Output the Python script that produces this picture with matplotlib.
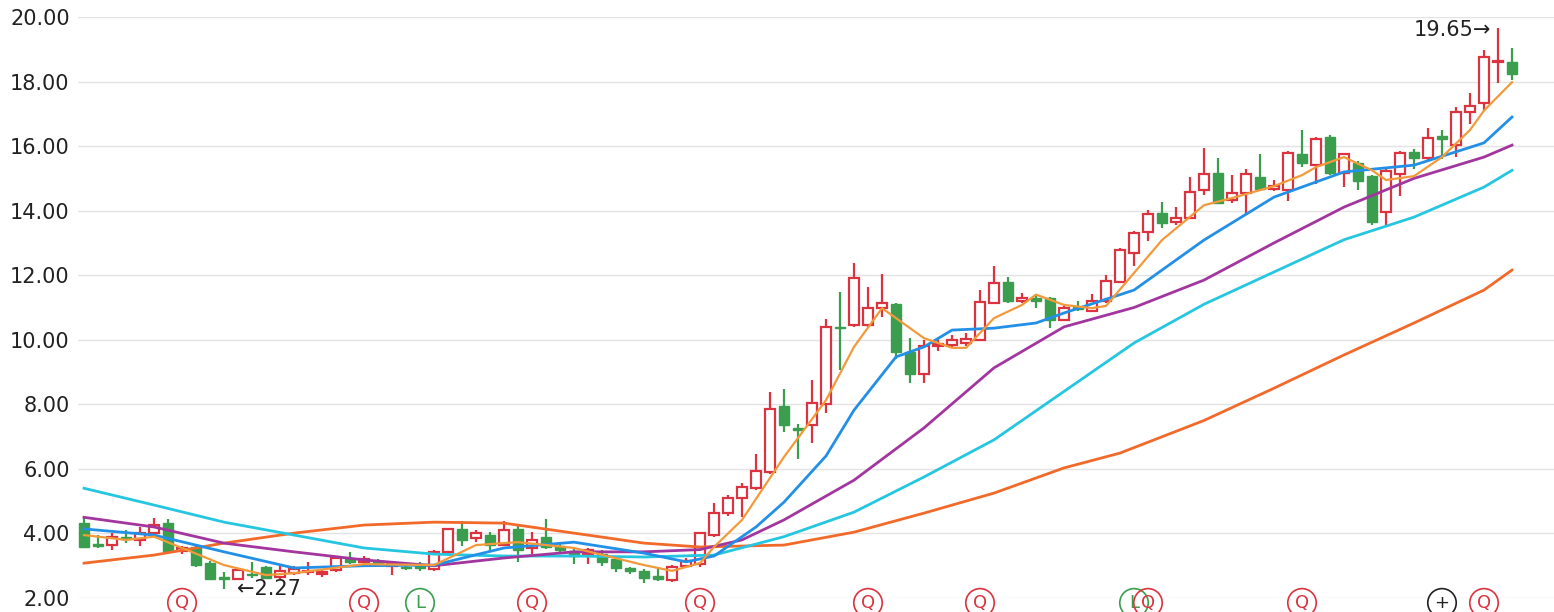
import matplotlib
matplotlib.use("Agg")
import matplotlib.pyplot as plt

# daily candles: open, high, low, close
opens = [4.32, 3.66, 3.64, 3.90, 3.80, 4.02, 4.32, 3.46, 3.58, 3.08,
         2.65, 2.58, 2.75, 2.95, 2.65, 2.78, 2.80, 2.75, 2.87, 3.22,
         3.12, 3.15, 3.00, 2.95, 3.00, 2.90, 3.42, 4.14, 3.86, 3.95,
         3.64, 4.14, 3.55, 3.90, 3.60, 3.45, 3.35, 3.35, 3.20, 2.92,
         2.85, 2.68, 2.55, 2.98, 3.05, 3.95, 4.63, 5.10, 5.40, 5.90,
         7.95, 7.27, 7.36, 8.00, 10.40, 10.45, 10.45, 10.98, 11.10, 9.62,
         8.94, 9.82, 9.85, 9.90, 10.00, 11.15, 11.80, 11.20, 11.30, 11.30,
         10.62, 11.00, 10.90, 11.20, 11.80, 12.70, 13.34, 13.92, 13.65, 13.77,
         14.64, 15.17, 14.33, 14.55, 15.05, 14.67, 14.64, 15.75, 15.41, 16.28,
         15.17, 15.47, 15.07, 13.96, 15.13, 15.82, 15.63, 16.30, 16.03, 17.06,
         17.34, 18.60, 18.60]
closes = [3.58, 3.60, 3.89, 3.82, 4.02, 4.26, 3.46, 3.56, 3.02, 2.59,
          2.58, 2.86, 2.70, 2.62, 2.85, 2.90, 2.85, 2.80, 3.24, 3.12,
          3.20, 3.05, 3.05, 2.92, 2.92, 3.42, 4.14, 3.80, 4.00, 3.64,
          4.10, 3.48, 3.80, 3.58, 3.50, 3.30, 3.48, 3.10, 2.93, 2.85,
          2.62, 2.58, 2.95, 3.15, 4.00, 4.63, 5.10, 5.44, 5.93, 7.85,
          7.36, 7.20, 8.04, 10.40, 10.35, 11.90, 11.00, 11.13, 9.62, 8.94,
          9.80, 9.85, 9.98, 10.03, 11.17, 11.76, 11.20, 11.30, 11.20, 10.60,
          10.98, 10.95, 11.20, 11.82, 12.78, 13.30, 13.90, 13.62, 13.77, 14.58,
          15.13, 14.24, 14.55, 15.13, 14.67, 14.76, 15.79, 15.47, 16.22, 15.17,
          15.75, 14.92, 13.65, 15.23, 15.79, 15.63, 16.25, 16.22, 17.06, 17.24,
          18.76, 18.65, 18.23]
highs = [4.50, 3.95, 4.00, 4.10, 4.20, 4.48, 4.45, 3.60, 3.60, 3.15,
         2.80, 2.92, 3.10, 3.00, 3.00, 2.98, 3.10, 2.90, 3.30, 3.42,
         3.30, 3.20, 3.12, 3.00, 3.10, 3.50, 4.17, 4.38, 4.12, 4.05,
         4.38, 4.25, 4.05, 4.45, 3.75, 3.55, 3.55, 3.50, 3.25, 2.96,
         2.90, 2.90, 3.02, 3.25, 4.05, 4.94, 5.18, 5.55, 6.46, 8.38,
         8.47, 7.40, 8.75, 10.65, 11.48, 12.38, 11.65, 12.03, 11.15, 10.05,
         10.00, 10.05, 10.15, 10.20, 11.54, 12.30, 11.95, 11.45, 11.42, 11.32,
         11.05, 11.20, 11.42, 12.00, 12.84, 13.36, 14.02, 14.27, 14.11, 15.04,
         15.94, 15.63, 15.10, 15.30, 15.75, 14.95, 15.85, 16.50, 16.28, 16.34,
         15.80, 15.55, 15.10, 15.30, 15.85, 15.90, 16.56, 16.50, 17.21, 17.64,
         18.98, 19.65, 19.04]
lows = [3.55, 3.55, 3.49, 3.70, 3.60, 4.00, 3.36, 3.36, 2.95, 2.56,
        2.27, 2.55, 2.62, 2.58, 2.60, 2.72, 2.70, 2.65, 2.82, 3.05,
        3.05, 2.98, 2.70, 2.88, 2.85, 2.85, 3.35, 3.60, 3.75, 3.45,
        3.60, 3.10, 3.35, 3.52, 3.42, 3.05, 3.05, 3.00, 2.80, 2.75,
        2.47, 2.52, 2.50, 2.95, 2.95, 3.90, 4.55, 4.50, 5.35, 5.85,
        7.15, 6.30, 6.80, 7.73, 9.06, 10.40, 10.40, 10.70, 9.40, 8.66,
        8.66, 9.65, 9.75, 9.80, 9.95, 11.10, 11.15, 11.15, 10.98, 10.36,
        10.58, 10.88, 10.85, 11.15, 11.75, 12.30, 13.06, 13.46, 13.55, 13.75,
        14.48, 14.20, 14.24, 13.86, 14.60, 14.60, 14.30, 15.35, 14.83, 15.10,
        14.73, 14.64, 13.55, 13.52, 14.45, 15.30, 15.50, 15.60, 15.66, 16.70,
        17.10, 17.96, 18.05]

# moving average lines read at sampled candle indices
ma5_i = [0, 3, 5, 7, 10, 13, 15, 20, 25, 28, 31, 35, 40, 42, 44, 45, 47, 50, 53, 55,
         57, 60, 62, 63, 65, 67, 68, 70, 72, 73, 75, 77, 80, 82, 85, 87, 88, 90, 92, 93,
         95, 97, 99, 100, 102]
ma5_v = [3.95, 3.80, 3.90, 3.55, 3.02, 2.71, 2.77, 3.05, 3.02, 3.64, 3.73, 3.55, 3.02, 2.84, 3.08,
         3.58, 4.42, 6.37, 8.13, 9.78, 10.98, 10.05, 9.75, 9.75, 10.67, 11.08, 11.40, 11.08, 10.98, 11.05,
         12.07, 13.09, 14.17, 14.39, 14.76, 15.10, 15.35, 15.66, 15.25, 14.95, 15.07, 15.66, 16.50, 17.10, 17.98]
ma10_i = [0, 5, 10, 15, 20, 25, 30, 35, 40, 43, 45, 48, 50, 53, 55, 58, 60, 62, 65, 68,
          70, 75, 80, 85, 90, 95, 100, 102]
ma10_v = [4.14, 3.95, 3.43, 2.93, 3.00, 3.02, 3.55, 3.73, 3.39, 3.12, 3.30, 4.20, 4.97, 6.40, 7.82,
          9.47, 9.78, 10.30, 10.36, 10.52, 10.83, 11.54, 13.09, 14.42, 15.20, 15.41, 16.10, 16.90]
ma20_i = [0, 5, 10, 15, 20, 25, 30, 35, 40, 44, 47, 50, 55, 60, 65, 70, 75, 80, 85, 90,
          95, 100, 102]
ma20_v = [4.50, 4.20, 3.70, 3.43, 3.18, 3.00, 3.24, 3.43, 3.43, 3.50, 3.80, 4.42, 5.65, 7.27, 9.13,
          10.40, 11.00, 11.85, 13.00, 14.11, 15.00, 15.66, 16.03]
ma30_i = [0, 5, 10, 15, 20, 25, 30, 35, 40, 45, 50, 55, 60, 65, 70, 75, 80, 85, 90, 95,
          100, 102]
ma30_v = [5.40, 4.88, 4.35, 3.95, 3.55, 3.36, 3.30, 3.30, 3.27, 3.33, 3.90, 4.66, 5.75, 6.90, 8.40,
          9.90, 11.10, 12.10, 13.10, 13.80, 14.73, 15.25]
ma60_i = [0, 5, 10, 15, 20, 25, 30, 35, 40, 44, 50, 55, 60, 65, 70, 74, 80, 85, 90, 95,
          100, 102]
ma60_v = [3.08, 3.33, 3.70, 4.01, 4.26, 4.35, 4.32, 4.01, 3.70, 3.58, 3.64, 4.04, 4.63, 5.25, 6.03,
          6.49, 7.50, 8.50, 9.53, 10.52, 11.54, 12.16]

# event markers under the candles
mark_i = [7, 20, 24, 32, 44, 56, 64, 75, 76, 87, 97, 100]
mark_t = ["Q", "Q", "L", "Q", "Q", "Q", "Q", "L", "Q", "Q", "+", "Q"]

yticks = [2, 4, 6, 8, 10, 12, 14, 16, 18, 20]

RED = "#dc3340"
GREEN = "#3b9e4f"

fig = plt.figure(figsize=(15.54, 6.12), dpi=100)
ax = fig.add_axes([78 / 1554, 14 / 612, 1476 / 1554, 581 / 612])

n = len(opens)
for i in range(n):
    o, c, h, l = opens[i], closes[i], highs[i], lows[i]
    up = c >= o
    col = RED if up else GREEN
    ax.vlines(i, l, h, color=col, lw=1.6, zorder=2)
    bot = min(o, c)
    hgt = max(abs(c - o), 0.04)
    if up:
        ax.bar(i, hgt, bottom=bot, width=0.66, facecolor="white", edgecolor=col, lw=1.6, zorder=3)
    else:
        ax.bar(i, hgt, bottom=bot, width=0.66, facecolor=col, edgecolor=col, lw=1.0, zorder=3)

ax.plot(ma60_i, ma60_v, color="#f26a2a", lw=2, zorder=4)
ax.plot(ma30_i, ma30_v, color="#25c6e0", lw=2, zorder=4)
ax.plot(ma20_i, ma20_v, color="#a3359f", lw=2, zorder=4)
ax.plot(ma10_i, ma10_v, color="#2290e6", lw=2, zorder=4)
ax.plot(ma5_i, ma5_v, color="#f29a3a", lw=1.6, zorder=5)

lo = lows.index(min(lows))
hi = highs.index(max(highs))
ax.text(lo + 0.9, min(lows), "\u2190%.2f" % min(lows), fontsize=15, va="center", ha="left", color="#222222")
ax.text(hi - 0.5, max(highs) - 0.05, "%.2f\u2192" % max(highs), fontsize=15, va="center", ha="right", color="#222222")

for i, t in zip(mark_i, mark_t):
    col = GREEN if t == "L" else ("#222222" if t == "+" else RED)
    ax.scatter([i], [1.85], s=420, facecolor="none", edgecolor=col, lw=1.2, clip_on=False, zorder=6)
    ax.text(i, 1.85, t, color=col, fontsize=13, ha="center", va="center", clip_on=False, zorder=6)

ax.set_xlim(-0.43, 105)
ax.set_ylim(2, 20)
ax.set_yticks(yticks)
ax.set_yticklabels(["%.2f" % v for v in yticks], fontsize=15, color="#222222")
ax.set_xticks([])
ax.tick_params(axis="y", length=0, pad=6)
ax.grid(axis="y", color="#e3e3e3", lw=1)
ax.set_axisbelow(True)
for s in ax.spines.values():
    s.set_visible(False)

fig.savefig("out.png", dpi=100)
